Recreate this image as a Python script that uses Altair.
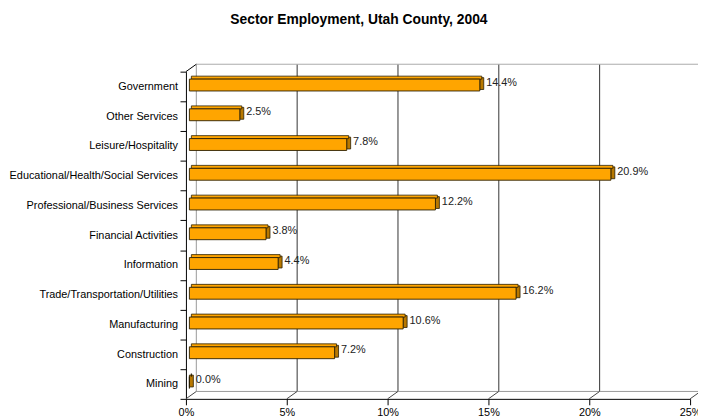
import altair as alt
import pandas as pd

categories = [
    "Government", "Other Services", "Leisure/Hospitality",
    "Educational/Health/Social Services", "Professional/Business Services",
    "Financial Activities", "Information", "Trade/Transportation/Utilities",
    "Manufacturing", "Construction", "Mining",
]
values = [14.4, 2.5, 7.8, 20.9, 12.2, 3.8, 4.4, 16.2, 10.6, 7.2, 0.0]
value_labels = ["14.4%", "2.5%", "7.8%", "20.9%", "12.2%", "3.8%", "4.4%",
                "16.2%", "10.6%", "7.2%", "0.0%"]
tick_values = [0, 5, 10, 15, 20, 25]
title_text = "Sector Employment, Utah County, 2004"

FONT = "Liberation Sans"
W, H = 510, 331
# 3D offsets (pixels)
BX, BY = 10.5, -7.5      # back wall relative to front
MX, MY = 3.5, -1.5       # bar plane relative to front
DX, DY = 4.0, -3.0       # bar depth

df = pd.DataFrame({"sector": categories, "value": values,
                   "label": value_labels, "start": [0.0] * len(values)})
grid_df = pd.DataFrame({"v": tick_values})
one = pd.DataFrame({"a": [0]})

xs = alt.Scale(domain=[0, 25], nice=False, zero=True)
ys = alt.Scale(domain=categories, paddingInner=0, paddingOuter=0)

x_axis = alt.Axis(
    values=tick_values, labelExpr="datum.value + '%'", tickSize=6,
    tickColor="black", domainColor="black", labelColor="black",
    labelFont=FONT, labelFontSize=11, labelPadding=2, labelFlush=False,
    grid=False, title=None)
y_axis = alt.Axis(
    tickBand="extent", tickSize=6, tickColor="black", domainColor="black",
    labelColor="black", labelFont=FONT, labelFontSize=11, labelPadding=2.5,
    labelLimit=300, grid=False, title=None)


def X(f):
    return alt.X(f, type="quantitative", scale=xs, axis=x_axis)


Y = alt.Y("sector:N", scale=ys, sort=categories, axis=y_axis)

# back wall gridlines
back_lines = alt.Chart(grid_df).transform_filter("datum.v > 0 && datum.v < 25").mark_rule(
    color="#333", strokeWidth=1, xOffset=BX
).encode(x=X("v"), y=alt.value(BY), y2=alt.value(H + BY))

back_zero = alt.Chart(grid_df).transform_filter("datum.v == 0").mark_rule(
    color="#999", strokeWidth=1, xOffset=BX
).encode(x=X("v"), y=alt.value(BY), y2=alt.value(H + BY))

top_line = alt.Chart(one).mark_rule(color="#aaa", strokeWidth=1).encode(
    x=alt.value(BX), x2=alt.value(W + 12), y=alt.value(BY))
floor_back = alt.Chart(one).mark_rule(color="#999", strokeWidth=1).encode(
    x=alt.value(BX), x2=alt.value(W + 12), y=alt.value(H + BY))
corner = alt.Chart(one).mark_rule(color="black", strokeWidth=1).encode(
    x=alt.value(0), x2=alt.value(BX), y=alt.value(0), y2=alt.value(BY))

floor_diag = alt.Chart(grid_df).mark_rule(
    color="#444", strokeWidth=1, xOffset=0, x2Offset=BX
).encode(x=X("v"), x2=alt.X2("v"), y=alt.value(H), y2=alt.value(H + BY))

# bars: side, top, front
side = alt.Chart(df).mark_bar(
    size=12, color="#B87800", stroke="#2a1e00", strokeWidth=0.8,
    xOffset=MX, x2Offset=MX + DX, yOffset=MY + DY / 2
).encode(x=X("value"), x2=alt.X2("value"), y=Y)

top = alt.Chart(df).mark_bar(
    size=abs(DY), color="#FFA500", stroke="#2a1e00", strokeWidth=0.8,
    xOffset=MX + DX / 2, x2Offset=MX + DX / 2, yOffset=MY - 6 + DY / 2
).encode(x=X("start"), x2=alt.X2("value"), y=Y)

front = alt.Chart(df).mark_bar(
    size=12, color="#FFA500", stroke="#2a1e00", strokeWidth=0.9,
    xOffset=MX, x2Offset=MX, yOffset=MY
).encode(x=X("start"), x2=alt.X2("value"), y=Y)

labels = alt.Chart(df).mark_text(
    align="left", baseline="middle", font=FONT, fontSize=11, color="#222",
    dx=MX + DX + 2.5, dy=-4
).encode(x=X("value"), y=Y, text="label:N")

title = alt.Chart(one).mark_text(
    text=title_text, font=FONT, fontSize=14, fontWeight="bold", color="black",
    align="center", baseline="middle"
).encode(x=alt.value(175), y=alt.value(-52))

chart = alt.layer(
    back_zero, back_lines, top_line, floor_back, floor_diag, corner,
    side, top, front, labels, title
).properties(
    width=W, height=H,
    padding={"left": 180, "top": 62, "right": 8, "bottom": 19},
    autosize=alt.AutoSizeParams(type="none"),
    background="white",
).configure_view(strokeWidth=0)

chart.save("out.html", embed_options={"renderer": "svg", "actions": False})
